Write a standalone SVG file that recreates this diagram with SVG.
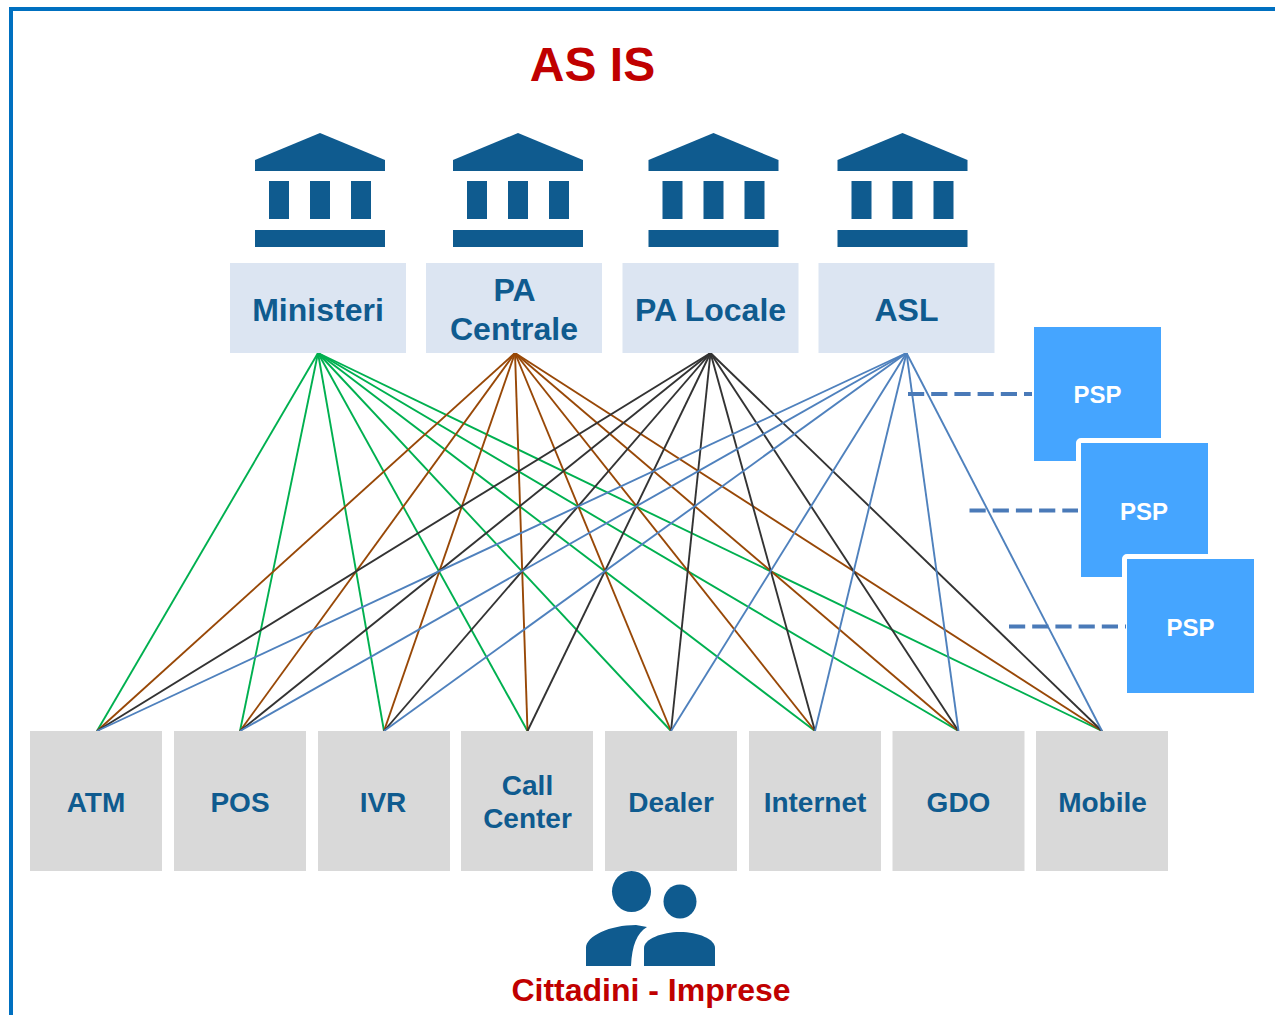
<svg xmlns="http://www.w3.org/2000/svg" width="1275" height="1015" viewBox="0 0 1275 1015">
<style>
text{font-family:"Liberation Sans",Arial,sans-serif;font-weight:bold;text-anchor:middle}
.top{fill:#dce5f2}
.bot{fill:#d9d9d9}
.t{font-size:32px;fill:#0f5b8f}
.b{font-size:28px;fill:#0f5b8f}
.psp{fill:#45a5ff;stroke:#fff;stroke-width:10;stroke-linejoin:round;paint-order:stroke}
.pt{font-size:24px;fill:#fff}
.red{fill:#c00000}
.ic{fill:#0f5b8f}
.g line{stroke:#00b050;stroke-width:1.9}
.o line{stroke:#984807;stroke-width:1.9}
.k line{stroke:#333;stroke-width:1.9}
.u line{stroke:#4f81bd;stroke-width:1.9}
.d line{stroke:#4a7ab8;stroke-width:4;stroke-dasharray:16.200 7}
</style>
<defs>
<g id="bank"><path d="M65 0L130 27V38H0V27Z"/><rect x="14" y="48" width="20" height="38"/><rect x="55" y="48" width="20" height="38"/><rect x="96" y="48" width="20" height="38"/><rect y="97" width="130" height="17"/></g>
</defs>
<rect width="1275" height="1015" fill="#fff"/>
<path d="M11 1015V9H1275" fill="none" stroke="#0070c0" stroke-width="4"/>
<text id="title" class="red" x="592.500" y="81" font-size="48">AS IS</text>
<g id="psp1"><rect class="psp" x="1034" y="327" width="127" height="134"/><text class="pt" x="1097.500" y="403">PSP</text></g>
<g id="psp2"><rect class="psp" x="1081" y="443" width="127" height="134"/><text class="pt" x="1144" y="520">PSP</text></g>
<g id="psp3"><rect class="psp" x="1127" y="559" width="127" height="134"/><text class="pt" x="1190.500" y="636">PSP</text></g>
<g id="connectors">
<g class="g"><line x1="318" y1="353" x2="97" y2="731"/><line x1="318" y1="353" x2="240" y2="731"/><line x1="318" y1="353" x2="384" y2="731"/><line x1="318" y1="353" x2="527.500" y2="731"/><line x1="318" y1="353" x2="671" y2="731"/><line x1="318" y1="353" x2="815" y2="731"/><line x1="318" y1="353" x2="958.500" y2="731"/><line x1="318" y1="353" x2="1102" y2="731"/></g>
<g class="o"><line x1="515" y1="353" x2="97" y2="731"/><line x1="515" y1="353" x2="240" y2="731"/><line x1="515" y1="353" x2="384" y2="731"/><line x1="515" y1="353" x2="527.500" y2="731"/><line x1="515" y1="353" x2="671" y2="731"/><line x1="515" y1="353" x2="815" y2="731"/><line x1="515" y1="353" x2="958.500" y2="731"/><line x1="515" y1="353" x2="1102" y2="731"/></g>
<g class="k"><line x1="710.500" y1="353" x2="97" y2="731"/><line x1="710.500" y1="353" x2="240" y2="731"/><line x1="710.500" y1="353" x2="384" y2="731"/><line x1="710.500" y1="353" x2="527.500" y2="731"/><line x1="710.500" y1="353" x2="671" y2="731"/><line x1="710.500" y1="353" x2="815" y2="731"/><line x1="710.500" y1="353" x2="958.500" y2="731"/><line x1="710.500" y1="353" x2="1102" y2="731"/></g>
<g class="u"><line x1="906.500" y1="353" x2="97" y2="731"/><line x1="906.500" y1="353" x2="240" y2="731"/><line x1="906.500" y1="353" x2="384" y2="731"/><line x1="906.500" y1="353" x2="671" y2="731"/><line x1="906.500" y1="353" x2="815" y2="731"/><line x1="906.500" y1="353" x2="958.500" y2="731"/><line x1="906.500" y1="353" x2="1102" y2="731"/></g>
<g class="d"><line x1="908" y1="394" x2="1032" y2="394"/><line x1="969.500" y1="510.500" x2="1078" y2="510.500"/><line x1="1009" y1="626.500" x2="1126" y2="626.500"/></g>
</g>
<g id="ministeri"><use href="#bank" class="ic" x="255" y="133"/><rect class="top" x="230" y="263" width="176" height="90"/><text class="t" x="318" y="321">Ministeri</text></g>
<g id="pa-centrale"><use href="#bank" class="ic" x="453" y="133"/><rect class="top" x="426" y="263" width="176" height="90"/><text class="t" x="514.500" y="301">PA</text><text class="t" x="514" y="340">Centrale</text></g>
<g id="pa-locale"><use href="#bank" class="ic" x="648.500" y="133"/><rect class="top" x="622.500" y="263" width="176" height="90"/><text class="t" x="710.500" y="321">PA Locale</text></g>
<g id="asl"><use href="#bank" class="ic" x="837.500" y="133"/><rect class="top" x="818.500" y="263" width="176" height="90"/><text class="t" x="906.500" y="321">ASL</text></g>
<g id="atm"><rect class="bot" x="30" y="731" width="132" height="140"/><text class="b" x="96" y="812">ATM</text></g>
<g id="pos"><rect class="bot" x="174" y="731" width="132" height="140"/><text class="b" x="240" y="812">POS</text></g>
<g id="ivr"><rect class="bot" x="318" y="731" width="132" height="140"/><text class="b" x="383" y="812">IVR</text></g>
<g id="call-center"><rect class="bot" x="461" y="731" width="132" height="140"/><text class="b" x="527.500" y="795">Call</text><text class="b" x="527.500" y="828">Center</text></g>
<g id="dealer"><rect class="bot" x="605" y="731" width="132" height="140"/><text class="b" x="671" y="812">Dealer</text></g>
<g id="internet"><rect class="bot" x="749" y="731" width="132" height="140"/><text class="b" x="815" y="812">Internet</text></g>
<g id="gdo"><rect class="bot" x="892.500" y="731" width="132" height="140"/><text class="b" x="958.500" y="812">GDO</text></g>
<g id="mobile"><rect class="bot" x="1036" y="731" width="132" height="140"/><text class="b" x="1102.500" y="812">Mobile</text></g>
<g id="cittadini-imprese">
<ellipse class="ic" cx="631.500" cy="891.500" rx="19.500" ry="20.500"/><ellipse class="ic" cx="680" cy="901.500" rx="16.500" ry="17"/>
<path class="ic" d="M586 966V948C586 936 610 925 636 925L647 927C637 933 632 945 631 966Z"/>
<path class="ic" d="M644 966V948C644 939 662 932 680 932C698 932 715 939 715 948V966Z"/>
<text class="red" x="651" y="1001" font-size="32">Cittadini - Imprese</text>
</g>
</svg>
